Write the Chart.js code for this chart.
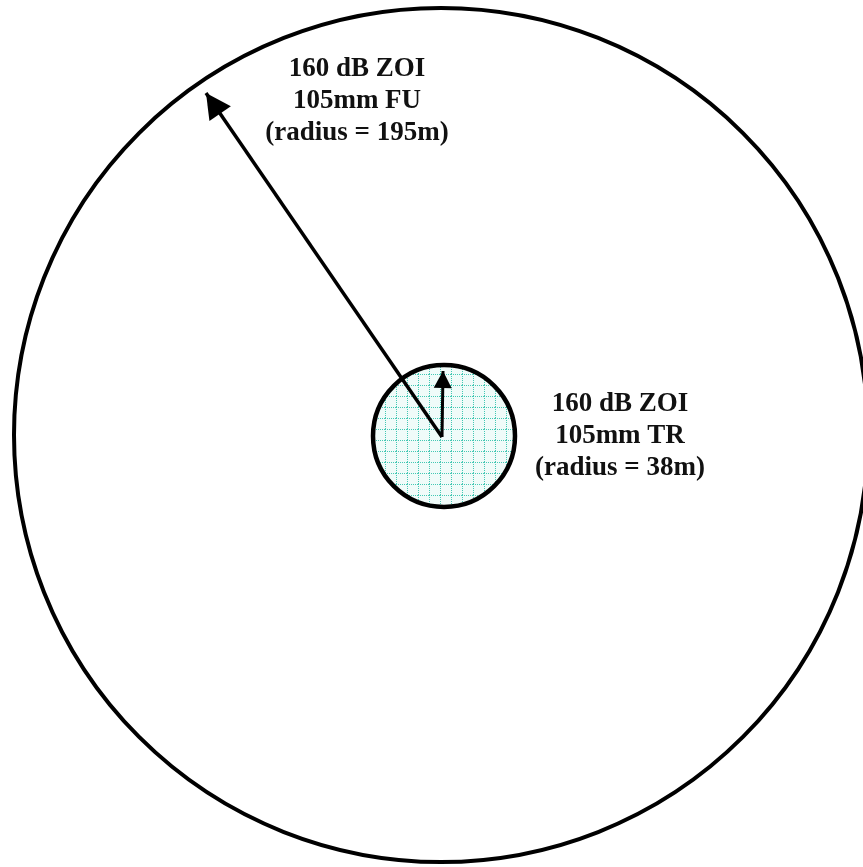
<!DOCTYPE html>
<html>
<head>
  <title>160 dB ZOI</title>
  <script src="https://cdn.jsdelivr.net/npm/chart.js"></script>
  <style>
    body { margin: 0; background: #fff; }
    canvas { display: block; }
  </style>
</head>
<body>
  <canvas id="zoiChart" width="863" height="867"></canvas>

  <script>
    // diagram units: 1 unit = 1 px, origin at the shared centre, y up
    const zoneNames = ["105mm FU", "105mm TR"];
    const zoneCenterX = [0, 3];
    const zoneCenterY = [0, -1];
    const zoneRadius = [427, 71];

    // arrows: tail -> tip
    const arrowTailX = [1, 1];
    const arrowTailY = [-2, -2];
    const arrowTipX = [-235, 2];
    const arrowTipY = [342, 64];

    const labelLines = [
      ["160 dB ZOI", "105mm FU", "(radius = 195m)"],
      ["160 dB ZOI", "105mm TR", "(radius = 38m)"]
    ];
    const labelX = [-84, 179];
    const labelY = [359, 24];

    // cyan graph-paper fill for the small zone
    function gridPattern() {
      const c = document.createElement("canvas");
      c.width = 11; c.height = 11;
      const g = c.getContext("2d");
      g.fillStyle = "#f0fbf9";
      g.fillRect(0, 0, 11, 11);
      g.fillStyle = "#45c8b4";
      for (let i = 0; i < 11; i += 2) {
        g.fillRect(i, 0, 1, 1);
        g.fillRect(0, i, 1, 1);
      }
      return g.createPattern(c, "repeat");
    }

    const ctx = document.getElementById("zoiChart").getContext("2d");

    const radiusPx = (chart, r) => {
      const s = chart.scales.x;
      return Math.abs(s.getPixelForValue(r) - s.getPixelForValue(0));
    };

    const arrowHeads = {
      id: "arrowHeads",
      afterDatasetsDraw(chart) {
        const c = chart.ctx;
        chart.data.datasets.forEach((ds, i) => {
          if (!ds.arrow) return;
          const pts = chart.getDatasetMeta(i).data;
          const a = pts[0], b = pts[1];
          const ang = Math.atan2(b.y - a.y, b.x - a.x);
          const len = ds.arrow.len, half = ds.arrow.half;
          c.save();
          c.translate(b.x, b.y);
          c.rotate(ang);
          c.beginPath();
          c.moveTo(0, 0);
          c.lineTo(-len, -half);
          c.lineTo(-len, half);
          c.closePath();
          c.fillStyle = "#000";
          c.fill();
          c.restore();
        });
      }
    };

    const zoneLabels = {
      id: "zoneLabels",
      afterDraw(chart) {
        const c = chart.ctx;
        const x = chart.scales.x, y = chart.scales.y;
        c.save();
        c.fillStyle = "#111";
        c.font = "bold 27px 'Liberation Serif', 'DejaVu Serif', serif";
        c.textAlign = "center";
        c.textBaseline = "alphabetic";
        labelLines.forEach((lines, i) => {
          const px = x.getPixelForValue(labelX[i]);
          const py = y.getPixelForValue(labelY[i]);
          lines.forEach((t, j) => c.fillText(t, px, py + j * 32));
        });
        c.restore();
      }
    };

    const fill = gridPattern();

    new Chart(ctx, {
      type: "scatter",
      data: {
        datasets: [
          {
            label: zoneNames[0] + " radius",
            data: [{ x: arrowTailX[0], y: arrowTailY[0] }, { x: arrowTipX[0], y: arrowTipY[0] }],
            showLine: true,
            borderColor: "#000",
            borderWidth: 3.5,
            pointRadius: 0,
            order: 1,
            arrow: { len: 25, half: 13 }
          },
          {
            label: zoneNames[1] + " radius",
            data: [{ x: arrowTailX[1], y: arrowTailY[1] }, { x: arrowTipX[1], y: arrowTipY[1] }],
            showLine: true,
            borderColor: "#000",
            borderWidth: 3,
            pointRadius: 0,
            order: 1,
            arrow: { len: 17, half: 9 }
          },
          {
            label: "zones",
            data: zoneNames.map((n, i) => ({ x: zoneCenterX[i], y: zoneCenterY[i] })),
            pointRadius: (c) => radiusPx(c.chart, zoneRadius[c.dataIndex]),
            pointHoverRadius: (c) => radiusPx(c.chart, zoneRadius[c.dataIndex]),
            backgroundColor: ["rgba(0,0,0,0)", fill],
            borderColor: "#000",
            borderWidth: [4, 4.5],
            order: 2
          }
        ]
      },
      options: {
        responsive: false,
        animation: false,
        events: [],
        layout: { padding: 0 },
        plugins: { legend: { display: false }, tooltip: { enabled: false } },
        scales: {
          x: { type: "linear", min: -441, max: 422, display: false },
          y: { type: "linear", min: -432, max: 435, display: false }
        }
      },
      plugins: [arrowHeads, zoneLabels]
    });
  </script>
</body>
</html>
